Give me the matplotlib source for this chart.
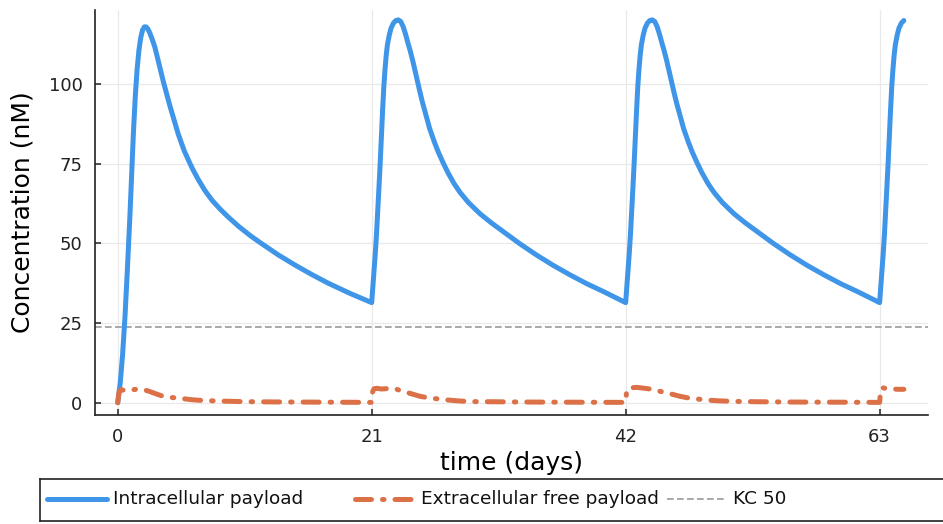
import matplotlib
matplotlib.use("Agg")
import matplotlib.pyplot as plt

# Intracellular payload (nM) vs time (days), one dose every 21 days
t_intra = [0.0, 0.2, 0.4, 0.6, 0.8, 1.0, 1.16, 1.3, 1.45, 1.6, 1.75, 1.9, 2.05, 2.2, 2.35,
           2.5, 2.65, 2.8, 2.95, 3.08, 3.3, 3.55, 3.8, 4.05, 4.3, 4.6, 5.0, 5.5, 6.1, 6.6,
           7.2, 7.8, 8.5, 9.15, 10.0, 11.0, 11.9, 13.3, 14.65, 16.0, 17.4, 19.2, 21.0,
           21.1, 21.2, 21.3, 21.4, 21.5, 21.6, 21.7, 21.8, 21.9, 22.0, 22.1, 22.2, 22.3,
           22.45, 22.6, 22.8, 23.0, 23.2, 23.4, 23.6, 23.8, 24.0, 24.17, 24.4, 24.6, 24.8,
           25.0, 25.2, 25.5, 25.8, 26.2, 26.5, 26.9, 27.3, 27.8, 28.3, 29.0, 29.95, 30.9,
           31.9, 33.2, 34.6, 36.0, 37.4, 38.8, 40.2, 41.1, 42.0,
           42.1, 42.2, 42.3, 42.4, 42.5, 42.6, 42.7, 42.8, 42.9, 43.0, 43.1, 43.2, 43.3,
           43.45, 43.6, 43.8, 44.0, 44.2, 44.4, 44.6, 44.8, 45.0, 45.17, 45.4, 45.6, 45.8,
           46.0, 46.2, 46.5, 46.8, 47.2, 47.5, 47.9, 48.3, 48.8, 49.3, 50.0, 50.95, 51.9,
           52.9, 54.2, 55.6, 57.0, 58.4, 59.8, 61.2, 62.1, 63.0,
           63.1, 63.2, 63.3, 63.4, 63.5, 63.6, 63.7, 63.8, 63.9, 64.0, 64.1, 64.2, 64.3,
           64.45, 64.6, 64.8, 65.0]
c_intra = [0.0, 6.0, 15.0, 27.0, 42.0, 58.0, 72.0, 85.0, 96.0, 104.5, 110.5, 114.5, 116.9, 117.9, 117.9,
           117.2, 116.0, 114.5, 112.9, 111.4, 108.0, 104.0, 100.3, 96.8, 93.3, 89.4, 84.3, 79.0, 74.0, 70.4,
           66.6, 63.5, 60.6, 58.2, 55.3, 52.3, 49.9, 46.3, 43.2, 40.3, 37.5, 34.3, 31.4,
           36.5, 41.5, 47.0, 53.0, 60.0, 67.5, 75.0, 83.5, 91.5, 99.0, 104.5, 109.0, 112.3,
           115.3, 117.5, 119.1, 119.9, 120.1, 119.6, 118.0, 115.6, 112.8, 110.6, 107.2, 103.9, 100.6,
           97.3, 94.2, 90.0, 85.9, 81.6, 78.7, 75.3, 72.2, 68.8, 66.0, 62.8, 59.3, 56.4,
           53.6, 50.0, 46.4, 43.1, 40.1, 37.3, 34.8, 33.1, 31.4,
           36.5, 41.5, 47.0, 53.0, 60.0, 67.5, 75.0, 83.5, 91.5, 99.0, 104.5, 109.0, 112.3,
           115.3, 117.5, 119.1, 119.9, 120.1, 119.6, 118.0, 115.6, 112.8, 110.6, 107.2, 103.9, 100.6,
           97.3, 94.2, 90.0, 85.9, 81.6, 78.7, 75.3, 72.2, 68.8, 66.0, 62.8, 59.3, 56.4,
           53.6, 50.0, 46.4, 43.1, 40.1, 37.3, 34.8, 33.1, 31.4,
           36.5, 41.5, 47.0, 53.0, 60.0, 67.5, 75.0, 83.5, 91.5, 99.0, 104.5, 109.0, 112.3,
           115.3, 117.5, 119.1, 119.9]

# Extracellular free payload (nM)
t_extra = [0.0, 0.1, 0.25, 0.5, 0.9, 1.5, 2.0, 2.5, 3.0, 3.6, 4.3, 5.3, 6.2, 7.2, 8.6,
           10.2, 12.5, 15.0, 18.0, 21.0,
           21.08, 21.2, 21.45, 21.8, 22.2, 22.6, 23.0, 23.3, 24.1, 25.0, 25.8, 26.6, 27.3,
           28.2, 29.1, 31.0, 34.0, 38.0, 42.0,
           42.08, 42.2, 42.5, 42.9, 43.4, 44.0, 44.6, 45.6, 46.5, 47.3, 48.7, 49.6, 51.0,
           53.0, 56.0, 60.0, 63.0,
           63.08, 63.2, 63.5, 64.1, 64.5, 65.0]
c_extra = [0.0, 3.2, 4.1, 3.9, 3.9, 4.2, 4.2, 3.7, 3.0, 2.2, 1.7, 1.3, 0.9, 0.65, 0.5,
           0.35, 0.25, 0.2, 0.15, 0.1,
           3.5, 4.4, 4.5, 4.3, 4.4, 4.6, 4.3, 3.9, 3.0, 2.0, 1.45, 1.15, 0.85,
           0.55, 0.35, 0.3, 0.2, 0.15, 0.1,
           3.7, 4.5, 4.7, 4.8, 4.6, 4.3, 3.8, 2.9, 2.0, 1.4, 0.85, 0.6, 0.4,
           0.3, 0.2, 0.15, 0.1,
           3.8, 4.7, 4.5, 4.3, 4.2, 4.2]

kc50 = 23.8

x_ticks = [0, 21, 42, 63]
y_ticks = [0, 25, 50, 75, 100]

labels = ["Intracellular payload", "Extracellular free payload", "KC 50"]

blue = "#3f96e8"
orange = "#dc7148"
grey = "#9a9a9a"
dashdot = (0, (3.2, 2.2, 0.3, 2.2))

plt.rcParams["font.family"] = "DejaVu Sans"

fig = plt.figure(figsize=(9.43, 5.24), dpi=100)
W, H = 943, 524

# main axes, placed in pixel terms
ax = fig.add_axes([95 / W, 1 - 415 / H, (928 - 95) / W, (415 - 10) / H])

ax.plot(t_intra, c_intra, color=blue, lw=3.6, solid_capstyle="round", solid_joinstyle="round", zorder=3)
ax.plot(t_extra, c_extra, color=orange, lw=3.6, linestyle=dashdot, dash_capstyle="round", zorder=3)
ax.axhline(kc50, color=grey, lw=1.2, linestyle=(0, (4, 2)), zorder=2)

ax.set_xlim(-1.88, 67.0)
ax.set_ylim(-3.86, 123.2)
ax.set_xticks(x_ticks)
ax.set_yticks(y_ticks)
ax.grid(True, color="#e9e9e9", lw=0.9)
ax.set_axisbelow(True)

for side in ["top", "right"]:
    ax.spines[side].set_visible(False)
for side in ["left", "bottom"]:
    ax.spines[side].set_linewidth(1.2)
    ax.spines[side].set_color("#222222")

ax.tick_params(direction="in", length=4.5, width=1.1, labelsize=13, colors="#222222", pad=9)
ax.set_xlabel("time (days)", fontsize=18, labelpad=4)
ax.set_ylabel("Concentration (nM)", fontsize=18, labelpad=10)

# legend strip below the plot
lax = fig.add_axes([40 / W, 1 - 521 / H, (946 - 40) / W, (521 - 479) / H])
lax.set_xlim(40, 946)
lax.set_ylim(521, 479)
lax.set_xticks([])
lax.set_yticks([])
for sp in lax.spines.values():
    sp.set_linewidth(1.2)
    sp.set_color("#222222")

ymid = 499
handles = [
    dict(color=blue, lw=3.6, linestyle="-", solid_capstyle="round"),
    dict(color=orange, lw=3.6, linestyle=dashdot, dash_capstyle="round"),
    dict(color=grey, lw=1.2, linestyle=(0, (4, 2))),
]
starts = [47, 355, 667]
for x0, lab, style in zip(starts, labels, handles):
    lax.plot([x0, x0 + 60], [ymid, ymid], **style)
    lax.text(x0 + 66, ymid, lab, fontsize=13.3, va="center", ha="left", color="#111111")

fig.savefig("out.png", dpi=100)
